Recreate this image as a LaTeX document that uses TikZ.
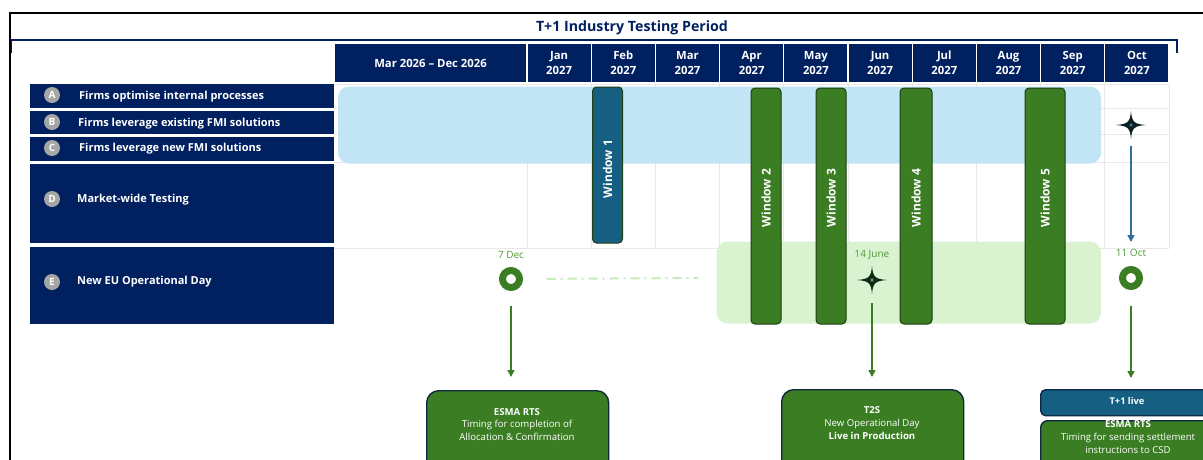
\documentclass[tikz,border=0pt]{standalone}
\usepackage{fontspec}
\setmainfont{Open Sans}
\usetikzlibrary{arrows.meta}
\definecolor{navy}{HTML}{002060}
\definecolor{badge}{HTML}{A6A6A6}
\definecolor{lblue}{HTML}{C1E5F5}
\definecolor{lgreen}{HTML}{D9F2D0}
\definecolor{dgreen}{HTML}{3B7D23}
\definecolor{bordgreen}{HTML}{1E3F14}
\definecolor{wblue}{HTML}{156082}
\definecolor{datec}{HTML}{4E9A3A}
\definecolor{gridc}{HTML}{E8E8E8}
\definecolor{dashc}{HTML}{C6ECBC}
\definecolor{boxbord}{HTML}{0E2841}
\definecolor{arrblue}{HTML}{2E7099}
\definecolor{stardark}{HTML}{0F2A14}
\definecolor{stardark2}{HTML}{0E1F22}
\begin{document}
\begin{tikzpicture}[x=1pt,y=-1pt,
  hdr/.style={fill=navy,draw=white,line width=1.2pt,text=white,align=center,
    minimum height=40pt,inner sep=0pt,font=\fontsize{11.3}{15}\selectfont\bfseries},
  rowbox/.style={fill=navy,draw=none,minimum width=304pt,inner sep=0pt},
  rowtxt/.style={anchor=west,text=white,inner sep=0pt,font=\fontsize{11}{12}\selectfont\bfseries},
  badgec/.style={circle,fill=badge,text=white,minimum size=16pt,inner sep=0pt,
    font=\fontsize{10}{11}\selectfont\bfseries},
  winbar/.style={draw=bordgreen,line width=1pt,rounded corners=4pt,inner sep=0pt,minimum width=30pt},
  wintxt/.style={rotate=90,text=white,inner sep=0pt,font=\fontsize{12}{13}\selectfont\bfseries},
  datetxt/.style={text=datec,inner sep=0pt,font=\fontsize{10}{11}\selectfont},
  ringc/.style={circle,draw=dgreen,line width=7pt,fill=white,minimum size=17pt,inner sep=0pt},
  garrow/.style={draw=dgreen,line width=1.5pt,-{Triangle[width=7pt,length=7pt]}},
  barrow/.style={draw=arrblue,line width=1.5pt,-{Triangle[width=7pt,length=7pt]}},
  gbox/.style={fill=dgreen,draw=boxbord,line width=1.4pt,rounded corners=12pt,inner sep=0pt},
  boxtxt/.style={text=white,align=center,inner sep=0pt,font=\fontsize{9.6}{12.8}\selectfont},
  gridl/.style={draw=gridc,line width=0.8pt}
]
\useasboundingbox (0,0) rectangle (1203,459);
\clip (0,0) rectangle (1203,459);
\fill[white] (0,0) rectangle (1203,459);

% frame
\draw[black,line width=2pt] (10,470) -- (10,13) -- (1210,13);
% bracket
\draw[navy,line width=1.4pt] (11.5,53) -- (11.5,40) -- (1177,40) -- (1177,53);
\node[text=navy,inner sep=0pt,font=\fontsize{14.2}{16}\selectfont\bfseries] (title) at (632,28) {T+1 Industry Testing Period};

% grid
\foreach \yy in {84.5,108.5,134.5,162.5,248}{\draw[gridl] (334,\yy) -- (1169,\yy);}
\foreach \k in {0,...,10}{\draw[gridl] ({527+64.2*\k},84) -- ({527+64.2*\k},248);}

% header
\node[hdr,minimum width=192pt] (hmd) at (430.5,63) {Mar 2026 -- Dec 2026};
\foreach \m [count=\i from 0] in {Jan,Feb,Mar,Apr,May,Jun,Jul,Aug,Sep,Oct}{
  \node[hdr,minimum width=64.2pt] (h\m) at ({559.1+64.2*\i},63) {\m\\2027};
}

% rows
\node[rowbox,minimum height=23.5pt] (rA) at (182,95.8) {};
\node[rowbox,minimum height=23pt] (rB) at (182,122.5) {};
\node[rowbox,minimum height=24pt] (rC) at (182,149) {};
\node[rowbox,minimum height=79pt] (rD) at (182,203.5) {};
\node[rowbox,minimum height=77pt] (rE) at (182,285.5) {};
\node[badgec] (bA) at (52,95) {A};
\node[badgec] (bB) at (52,122) {B};
\node[badgec] (bC) at (52,148) {C};
\node[badgec] (bD) at (52,199) {D};
\node[badgec] (bE) at (52,282) {E};
\node[rowtxt] (tA) at (79,97) {Firms optimise internal processes};
\node[rowtxt] (tB) at (78,123.5) {Firms leverage existing FMI solutions};
\node[rowtxt] (tC) at (79,148.5) {Firms leverage new FMI solutions};
\node[rowtxt] (tD) at (77,199.5) {Market-wide Testing};
\node[rowtxt] (tE) at (77,282) {New EU Operational Day};

% regions
\fill[lblue,rounded corners=11pt] (338,86.5) rectangle (1101,163.5);
\fill[lgreen,rounded corners=11pt] (716.5,241.5) rectangle (1101,323.5);

% dash-dot
\coordinate (dashend) at (698,278);

% windows
\node[winbar,fill=wblue,minimum height=156pt] (w1) at (607.5,165) {};
\node[winbar,fill=dgreen,minimum height=236pt] (w2) at (766,206) {};
\node[winbar,fill=dgreen,minimum height=236pt] (w3) at (831,206) {};
\node[winbar,fill=dgreen,minimum height=236pt,minimum width=32pt] (w4) at (916,206) {};
\node[winbar,fill=dgreen,minimum height=236pt,minimum width=40pt] (w5) at (1045,206) {};
\node[wintxt] (lw1) at (607.5,169) {Window 1};
\node[wintxt] (lw2) at (766,198) {Window 2};
\node[wintxt] (lw3) at (831,198) {Window 3};
\node[wintxt] (lw4) at (916,198) {Window 4};
\node[wintxt] (lw5) at (1045,198) {Window 5};

% milestones
\node[datetxt] (d1) at (511,255) {7 Dec};
\node[datetxt] (d2) at (872,255) {14 June};
\node[datetxt] (d3) at (1131,253) {11 Oct};
\node[ringc] (ring1) at (511,279) {};
\node[ringc] (ring3) at (1131,278) {};
\draw[dashc,line width=2pt,dash pattern=on 9pt off 5pt on 2pt off 5pt,shorten <=23.5pt] (ring1.east) -- (dashend);

\coordinate (star1) at (872,280);
\coordinate (star2) at (1131,125);
\fill[stardark,shift={(star1)}] (15,0) .. controls (3,0.9) and (0.9,3) .. (0,14)
  .. controls (-0.9,3) and (-3,0.9) .. (-15,0) .. controls (-3,-0.9) and (-0.9,-3) .. (0,-14)
  .. controls (0.9,-3) and (3,-0.9) .. cycle;
\fill[dgreen!80!white,shift={(star1)}] (0,0) circle (1.8);
\fill[stardark2,shift={(star2)}] (15,0) .. controls (3,0.9) and (0.9,3) .. (0,14)
  .. controls (-0.9,3) and (-3,0.9) .. (-15,0) .. controls (-3,-0.9) and (-0.9,-3) .. (0,-14)
  .. controls (0.9,-3) and (3,-0.9) .. cycle;
\fill[arrblue,shift={(star2)}] (0,0) circle (1.8);

% bottom boxes
\node[gbox,anchor=north west,minimum width=182pt,minimum height=90pt] (esma1) at (426,390) {};
\node[boxtxt,anchor=north] (esma1t) at (517,408) {\textbf{ESMA RTS}\\Timing for completion of\\Allocation \& Confirmation};
\node[gbox,anchor=north west,minimum width=182pt,minimum height=90pt] (t2s) at (781,389) {};
\node[boxtxt,anchor=north] (t2st) at (872,406.5) {\textbf{T2S}\\New Operational Day\\\textbf{Live in Production}};
\node[fill=wblue,draw=boxbord,line width=1.4pt,rounded corners=5pt,anchor=north west,
  minimum width=180pt,minimum height=26pt,inner sep=0pt] (tplus) at (1040,389) {};
\node[boxtxt,font=\fontsize{9.3}{11}\selectfont\bfseries] (tplust) at (1127,401) {T+1 live};
\node[gbox,rounded corners=7pt,anchor=north west,minimum width=180pt,minimum height=60pt] (esma2) at (1040,420) {};
\node[boxtxt,anchor=north] (esma2t) at (1128,420.5) {\textbf{ESMA RTS}\\Timing for sending settlement\\instructions to CSD};

% arrows
\draw[garrow,shorten <=14.5pt,shorten >=13pt] (ring1.south) -- (ring1.south |- esma1.north);
\draw[garrow,shorten <=23pt,shorten >=12pt] (star1) -- (star1 |- t2s.north);
\draw[garrow,shorten <=15.5pt,shorten >=11pt] (ring3.south) -- (ring3.south |- tplus.north);
\draw[barrow,shorten <=21pt,shorten >=36pt] (star2) -- (ring3.center);
\end{tikzpicture}
\end{document}
